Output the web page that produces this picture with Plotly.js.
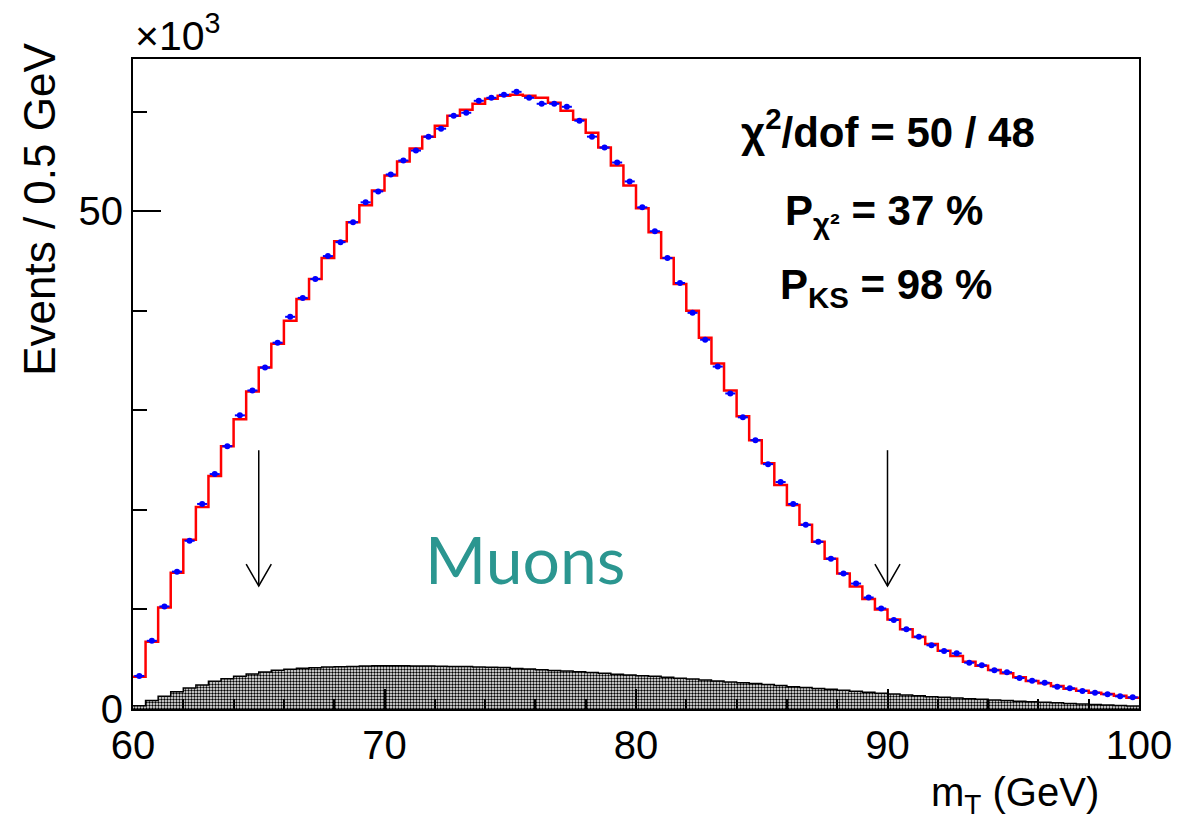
<!DOCTYPE html>
<html>
<head>
<meta charset="utf-8">
<script src="https://cdn.plot.ly/plotly-3.0.1.min.js"></script>
<style>
  html, body { margin: 0; padding: 0; background: #ffffff; }
  #chart { width: 1181px; height: 819px; }
</style>
</head>
<body>
<div id="chart"></div>
<script>
// Transverse mass, muon channel: 80 bins of 0.5 GeV from 60 to 100 GeV (values in thousands)
const binLow = 60;
const binWidth = 0.5;

// Fitted template (red histogram)
const fitTemplate = [
  3.25, 6.76, 10.2, 13.7, 17.0, 20.3, 23.4, 26.4, 29.1, 31.9,
  34.3, 36.7, 39.0, 41.2, 43.2, 45.3, 47.0, 48.9, 50.6, 52.1,
  53.6, 55.0, 56.3, 57.5, 58.6, 59.6, 60.2, 60.8, 61.3, 61.6,
  61.7, 61.6, 61.4, 60.9, 60.1, 59.2, 57.9, 56.4, 54.6, 52.6,
  50.3, 47.9, 45.3, 42.7, 40.0, 37.3, 34.7, 32.0, 29.4, 27.0,
  24.7, 22.5, 20.5, 18.5, 16.8, 15.1, 13.6, 12.3, 11.05, 10.0,
  9.0, 8.0, 7.23, 6.53, 5.86, 5.32, 4.75, 4.35, 3.92, 3.58,
  3.18, 2.81, 2.58, 2.31, 2.04, 1.84, 1.64, 1.51, 1.34, 1.14
];

// Measured events (blue points)
const dataEvents = [
  3.32, 6.85, 10.3, 13.8, 16.9, 20.6, 23.6, 26.4, 29.5, 32.0,
  34.3, 36.8, 39.4, 41.3, 43.2, 45.5, 46.9, 48.9, 50.9, 52.0,
  53.7, 55.1, 56.1, 57.5, 58.3, 59.6, 59.9, 61.1, 61.4, 61.7,
  62.0, 61.4, 60.8, 60.8, 60.5, 59.1, 57.5, 56.4, 54.9, 53.0,
  50.4, 48.0, 45.3, 42.8, 39.8, 37.1, 34.4, 31.7, 29.3, 27.0,
  24.6, 22.8, 20.6, 18.5, 16.8, 15.1, 13.6, 12.6, 11.2, 10.1,
  8.94, 8.0, 7.27, 6.4, 5.83, 5.59, 4.65, 4.39, 3.89, 3.69,
  3.11, 2.84, 2.64, 2.24, 2.08, 1.81, 1.64, 1.47, 1.27, 1.17
];

// Background contribution (hatched histogram)
const backgroundEvents = [
  0.33, 0.85, 1.27, 1.74, 2.11, 2.41, 2.78, 3.04, 3.28, 3.52,
  3.72, 3.89, 3.99, 4.09, 4.15, 4.22, 4.25, 4.28, 4.32, 4.35,
  4.35, 4.35, 4.33, 4.32, 4.30, 4.28, 4.26, 4.23, 4.20, 4.16,
  4.08, 4.02, 3.94, 3.88, 3.82, 3.75, 3.66, 3.58, 3.50, 3.42,
  3.35, 3.28, 3.19, 3.10, 3.01, 2.92, 2.82, 2.72, 2.64, 2.57,
  2.46, 2.36, 2.24, 2.15, 2.06, 1.98, 1.88, 1.79, 1.68, 1.58,
  1.50, 1.41, 1.32, 1.24, 1.17, 1.10, 1.03, 0.97, 0.91, 0.85,
  0.79, 0.73, 0.67, 0.62, 0.56, 0.50, 0.45, 0.40, 0.35, 0.30
];

// Selection window edges marked by arrows
const cutEdges = [65, 90];

const statLines = ['χ<sup>2</sup>/dof = 50 / 48', 'P<sub>χ²</sub> = 37 %', 'P<sub>KS</sub> = 98 %'];
const channelLabel = 'Muons';

// Helpers to turn bin contents into step outlines
const nBins = fitTemplate.length;
const lowEdges = Array.from({length: nBins}, (_, i) => binLow + i * binWidth);
const centers = lowEdges.map(e => e + binWidth / 2);
function stepX() { return lowEdges.concat([binLow + nBins * binWidth]); }
function stepY(vals) { return vals.concat([vals[vals.length - 1]]); }

const FONT = 'Liberation Sans, Arial, Helvetica, sans-serif';

const traces = [
  {
    type: 'scatter', mode: 'lines',
    x: stepX(), y: stepY(backgroundEvents),
    line: {shape: 'hv', color: '#000000', width: 1.5},
    fill: 'tozeroy',
    fillcolor: 'rgba(0,0,0,0)',
    fillpattern: {shape: '.', size: 3, solidity: 0.5, fgcolor: '#000000', bgcolor: '#ffffff'},
    hoverinfo: 'skip'
  },
  {
    type: 'scatter', mode: 'lines',
    x: stepX(), y: stepY(fitTemplate),
    line: {shape: 'hv', color: '#ff0000', width: 2.5},
    hoverinfo: 'skip'
  },
  {
    type: 'scatter', mode: 'markers',
    x: centers, y: dataEvents,
    marker: {color: '#0000ff', size: 6, symbol: 'circle'},
    error_x: {type: 'constant', value: binWidth / 2 - 0.05, width: 0, thickness: 2, color: '#0000ff'},
    hoverinfo: 'skip'
  }
];

// Arrow shapes: shaft plus open V head
const arrowTop = 26.0, arrowTip = 12.36, headRise = 2.2, headHalf = 0.5;
const shapes = [];
cutEdges.forEach(xc => {
  shapes.push({type: 'line', xref: 'x', yref: 'y', x0: xc, x1: xc, y0: arrowTop, y1: arrowTip,
               line: {color: '#000000', width: 1.5}});
  shapes.push({type: 'path', xref: 'x', yref: 'y',
               path: `M ${xc - headHalf} ${arrowTip + headRise} L ${xc} ${arrowTip} L ${xc + headHalf} ${arrowTip + headRise}`,
               line: {color: '#000000', width: 1.5}});
});

const annotations = [
  {text: '×10<sup>3</sup>', xref: 'paper', yref: 'paper', x: 0, y: 1.0, xanchor: 'left', yanchor: 'bottom',
   yshift: -2, showarrow: false, font: {family: FONT, size: 41, color: '#000000'}},
  {text: 'Events / 0.5 GeV', xref: 'paper', yref: 'paper', x: -0.0924, y: 0.768, xanchor: 'center', yanchor: 'middle',
   textangle: -90, showarrow: false, font: {family: FONT, size: 44, color: '#000000'}},
  {text: 'm<sub>T</sub> (GeV)', xref: 'paper', yref: 'paper', x: 1.0, y: -0.09, xanchor: 'right', yanchor: 'top',
   xshift: -38, showarrow: false, font: {family: FONT, size: 40, color: '#000000'}},
  {text: '<b>' + statLines[0] + '</b>', xref: 'paper', yref: 'paper', x: 0.75, y: 0.893, xanchor: 'center', yanchor: 'middle',
   showarrow: false, font: {family: FONT, size: 42, color: '#000000'}},
  {text: '<b>' + statLines[1] + '</b>', xref: 'paper', yref: 'paper', x: 0.747, y: 0.762, xanchor: 'center', yanchor: 'middle',
   showarrow: false, font: {family: FONT, size: 42, color: '#000000'}},
  {text: '<b>' + statLines[2] + '</b>', xref: 'paper', yref: 'paper', x: 0.749, y: 0.648, xanchor: 'center', yanchor: 'middle',
   showarrow: false, font: {family: FONT, size: 42, color: '#000000'}},
  {text: channelLabel, xref: 'paper', yref: 'paper', x: 0.39, y: 0.232, xanchor: 'center', yanchor: 'middle',
   showarrow: false, font: {family: 'Lato, Noto Sans, sans-serif', size: 66, color: '#2b9690'}}
];

const layout = {
  width: 1181, height: 819,
  margin: {l: 133, r: 42, t: 59, b: 110, pad: 0},
  paper_bgcolor: '#ffffff', plot_bgcolor: '#ffffff',
  showlegend: false,
  font: {family: FONT, color: '#000000'},
  xaxis: {
    range: [60, 100], tick0: 60, dtick: 10,
    ticks: 'inside', ticklen: 20, tickwidth: 2, tickcolor: '#000000',
    minor: {dtick: 2, ticks: 'inside', ticklen: 10, tickwidth: 2, tickcolor: '#000000', showgrid: false},
    showline: true, linecolor: '#000000', linewidth: 2, mirror: true,
    showgrid: false, zeroline: false,
    tickfont: {family: FONT, size: 40, color: '#000000'}
  },
  yaxis: {
    range: [0, 65.3], tick0: 0, dtick: 50,
    ticks: 'inside', ticklen: 28, tickwidth: 2, tickcolor: '#000000',
    minor: {dtick: 10, ticks: 'inside', ticklen: 14, tickwidth: 2, tickcolor: '#000000', showgrid: false},
    showline: true, linecolor: '#000000', linewidth: 2, mirror: true,
    showgrid: false, zeroline: false,
    tickfont: {family: FONT, size: 40, color: '#000000'}
  },
  shapes: shapes,
  annotations: annotations
};

Plotly.newPlot('chart', traces, layout, {staticPlot: true, displayModeBar: false});
</script>
</body>
</html>
